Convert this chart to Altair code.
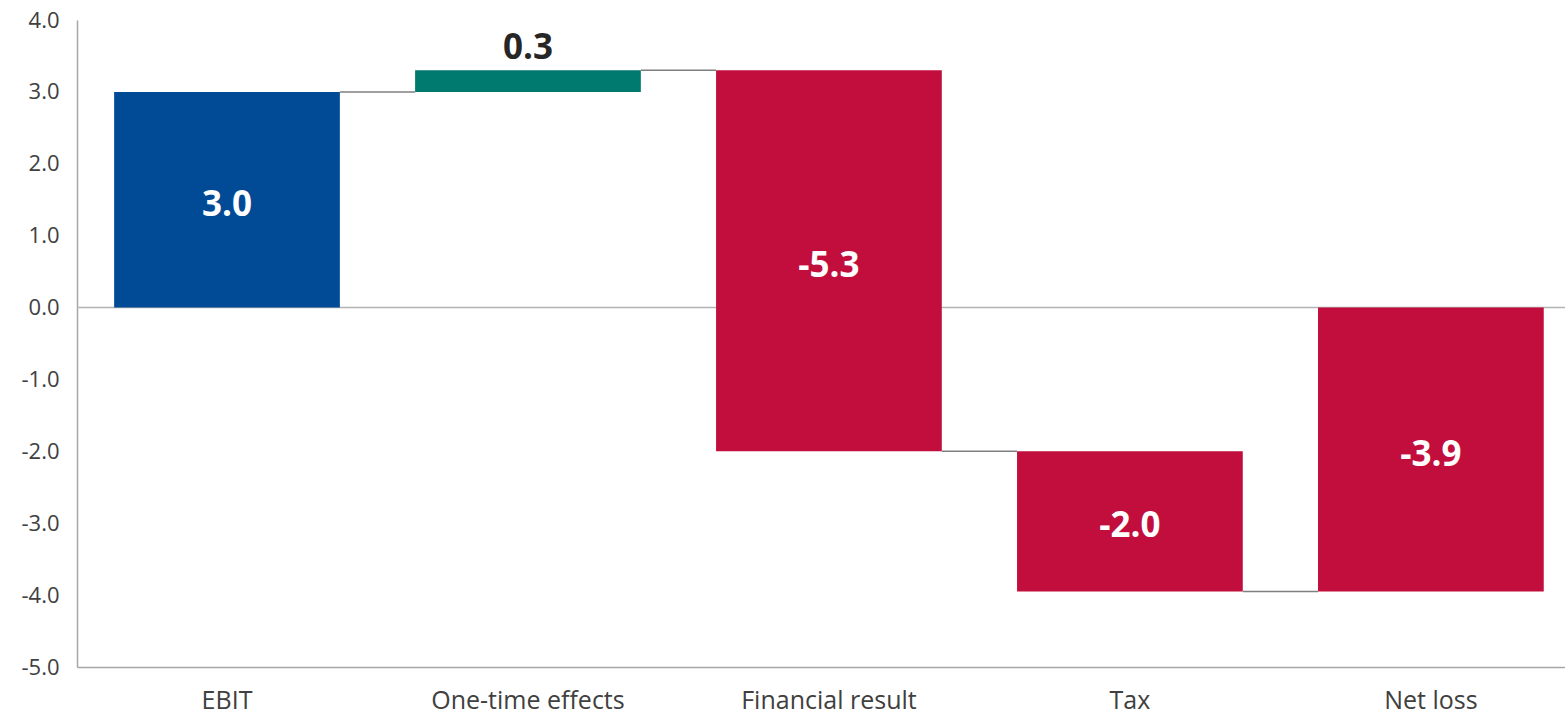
import altair as alt
import pandas as pd

categories = ["EBIT", "One-time effects", "Financial result", "Tax", "Net loss"]
changes = [3.0, 0.3, -5.3, -1.95]          # step values of the bridge
labels = ["3.0", "0.3", "-5.3", "-2.0", "-3.9"]
kinds = ["start", "pos", "neg", "neg", "neg"]
colors = {"start": "#004A96", "pos": "#00796F", "neg": "#C20E3C"}
y_ticks = [-5, -4, -3, -2, -1, 0, 1, 2, 3, 4]

# build running totals
starts, ends = [], []
run = 0.0
for c in changes:
    starts.append(run)
    run = round(run + c, 4)
    ends.append(run)
starts.append(0.0)
ends.append(run)

bars = pd.DataFrame({
    "cat": categories,
    "start": starts,
    "end": ends,
    "mid": [(s + e) / 2 for s, e in zip(starts, ends)],
    "top": [max(s, e) for s, e in zip(starts, ends)],
    "label": labels,
    "kind": kinds,
})
conn = pd.DataFrame({
    "from": categories[:-1],
    "to": categories[1:],
    "level": ends[:-1],
})
zero = pd.DataFrame({"v": [0.0]})

FONT = "Open Sans"
xscale = alt.Scale(domain=categories, paddingInner=0.25, paddingOuter=0.097, align=0.636)
yscale = alt.Scale(domain=[-5, 4], nice=False, zero=False)

base_x = alt.X("cat:N", scale=xscale, sort=categories,
               axis=alt.Axis(title=None, labelAngle=0, labelFontSize=25, labelLimit=0,
                             labelColor="#404040", labelFont=FONT, ticks=False,
                             domainColor="#a6a6a6", domainWidth=1.5, labelPadding=21))
base_y = alt.Y("start:Q", scale=yscale,
               axis=alt.Axis(title=None, values=y_ticks, format=".1f", grid=False,
                             labelExpr="replace(datum.label, '\u2212', '-')",
                             ticks=False, labelFontSize=22, labelColor="#404040",
                             labelFont=FONT, domainColor="#a6a6a6", domainWidth=1.5,
                             labelPadding=18))

zero_line = alt.Chart(zero).mark_rule(color="#b3b3b3", strokeWidth=1.5).encode(
    y=alt.Y("v:Q", scale=yscale)
)

bar_layer = alt.Chart(bars).mark_bar().encode(
    x=base_x,
    y=base_y,
    y2="end:Q",
    color=alt.Color("kind:N", scale=alt.Scale(domain=list(colors.keys()),
                                              range=list(colors.values())), legend=None),
)

conn_layer = alt.Chart(conn).mark_rule(color="#7f7f7f", strokeWidth=1.5).encode(
    x=alt.X("from:N", scale=xscale, bandPosition=1),
    x2=alt.X2("to:N", bandPosition=0),
    y=alt.Y("level:Q", scale=yscale),
)

inside = alt.Chart(bars).transform_filter(alt.datum.kind != "pos").mark_text(
    color="white", fontSize=35, fontWeight="bold", font=FONT, baseline="middle", dy=5
).encode(
    x=alt.X("cat:N", scale=xscale),
    y=alt.Y("mid:Q", scale=yscale),
    text="label:N",
)

above = alt.Chart(bars).transform_filter(alt.datum.kind == "pos").mark_text(
    color="#262626", fontSize=35, fontWeight="bold", font=FONT, baseline="alphabetic", dy=-11
).encode(
    x=alt.X("cat:N", scale=xscale),
    y=alt.Y("top:Q", scale=yscale),
    text="label:N",
)

chart = alt.layer(zero_line, bar_layer, conn_layer, inside, above).properties(
    width=1488, height=647,
    autosize=alt.AutoSizeParams(type="none"),
    padding={"left": 77, "top": 20, "right": 0, "bottom": 50},
).configure_view(stroke=None)

chart.save("out.html", embed_options={"renderer": "svg", "actions": False})
